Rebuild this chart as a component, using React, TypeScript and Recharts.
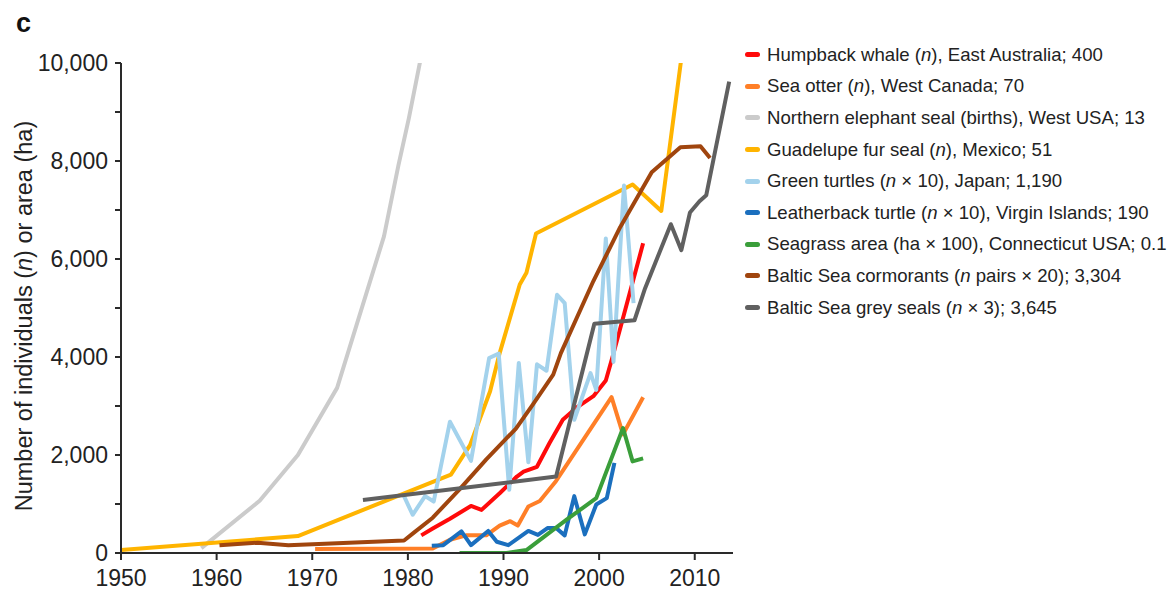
import React from 'react';
import { LineChart, Line, XAxis, YAxis, Legend } from 'recharts';

// ---- Data ----
const xTicks = [1950, 1960, 1970, 1980, 1990, 2000, 2010];
const yTicks = [0, 1000, 2000, 3000, 4000, 5000, 6000, 7000, 8000, 9000, 10000];

const humpbackYears = [1981.4, 1982.6, 1984.4, 1986.6, 1987.7, 1989.6, 1991.4, 1992.1, 1993.5, 1994.8, 1996.2, 1997.6, 1999.4, 2000.7, 2001.4, 2004.6];
const humpbackValues = [360, 500, 700, 960, 880, 1220, 1560, 1660, 1760, 2240, 2720, 2960, 3200, 3520, 4000, 6320];

const otterYears = [1970.3, 1982.6, 1984.4, 1986.1, 1988.2, 1989.6, 1990.7, 1991.5, 1992.6, 1993.8, 1995.5, 2001.3, 2002.5, 2004.6];
const otterValues = [80, 90, 270, 360, 360, 560, 650, 560, 950, 1060, 1470, 3180, 2420, 3180];

const elephantYears = [1958.4, 1964.5, 1968.5, 1972.6, 1977.5, 1979.0, 1980.1, 1981.3];
const elephantValues = [100, 1065, 2000, 3370, 6460, 7900, 8870, 10050];

const guadalupeYears = [1950, 1968.5, 1984.5, 1986.5, 1988.6, 1989.6, 1991.7, 1992.4, 1993.4, 2003.5, 2006.5, 2008.6];
const guadalupeValues = [60, 345, 1600, 2200, 3300, 4080, 5480, 5720, 6520, 7520, 6980, 10100];

const greenTurtleYears = [1979.5, 1980.5, 1981.8, 1982.7, 1984.4, 1986.6, 1988.5, 1989.5, 1990.6, 1991.6, 1992.6, 1993.5, 1994.5, 1995.6, 1996.4, 1997.4, 1999.1, 1999.7, 2000.7, 2001.5, 2002.6, 2003.6];
const greenTurtleValues = [1200, 780, 1160, 1050, 2680, 1880, 3980, 4070, 1290, 3880, 1850, 3850, 3720, 5270, 5100, 2720, 3670, 3330, 6420, 3900, 7500, 5100];

const leatherbackYears = [1982.5, 1983.7, 1985.6, 1986.6, 1988.4, 1989.3, 1990.5, 1992.6, 1993.6, 1994.6, 1995.5, 1996.4, 1997.4, 1998.5, 1999.7, 2000.8, 2001.6];
const leatherbackValues = [150, 160, 440, 160, 450, 230, 160, 450, 370, 510, 510, 360, 1160, 380, 990, 1120, 1840];

const seagrassYears = [1985.4, 1990.3, 1992.4, 1994.5, 1996.6, 1999.7, 2002.5, 2003.5, 2004.6];
const seagrassValues = [0, 0, 60, 370, 680, 1120, 2550, 1870, 1930];

const cormorantYears = [1960.3, 1964.3, 1967.5, 1979.6, 1980.6, 1982.6, 1985.4, 1988.2, 1991.3, 1993.1, 1995.2, 1996.0, 1999.4, 2002.2, 2005.5, 2008.5, 2010.6, 2011.6];
const cormorantValues = [160, 210, 160, 255, 410, 720, 1300, 1910, 2540, 3040, 3640, 4080, 5550, 6650, 7770, 8280, 8300, 8060];

const greySealYears = [1975.3, 1995.5, 1999.5, 2003.7, 2004.8, 2007.5, 2008.6, 2009.5, 2010.5, 2011.2, 2013.6];
const greySealValues = [1080, 1560, 4680, 4750, 5400, 6710, 6180, 6950, 7180, 7300, 9620];

const seriesNames = [
  'Humpback whale (*n*), East Australia; 400',
  'Sea otter (*n*), West Canada; 70',
  'Northern elephant seal (births), West USA; 13',
  'Guadelupe fur seal (*n*), Mexico; 51',
  'Green turtles (*n* \u00d7 10), Japan; 1,190',
  'Leatherback turtle (*n* \u00d7 10), Virgin Islands; 190',
  'Seagrass area (ha \u00d7 100), Connecticut USA; 0.1',
  'Baltic Sea cormorants (*n* pairs \u00d7 20); 3,304',
  'Baltic Sea grey seals (*n* \u00d7 3); 3,645',
];
const seriesColors = ['#ff0a0a', '#ff7f27', '#cbcbcb', '#ffb400', '#a3d2ec', '#1b6fbe', '#3a9e3a', '#a0450e', '#606060'];

const toPoints = (years: number[], values: number[]) => years.map((year, i) => ({ year, value: values[i] }));

const seriesData = [
  toPoints(humpbackYears, humpbackValues),
  toPoints(otterYears, otterValues),
  toPoints(elephantYears, elephantValues),
  toPoints(guadalupeYears, guadalupeValues),
  toPoints(greenTurtleYears, greenTurtleValues),
  toPoints(leatherbackYears, leatherbackValues),
  toPoints(seagrassYears, seagrassValues),
  toPoints(cormorantYears, cormorantValues),
  toPoints(greySealYears, greySealValues),
];

const FONT = '"Liberation Sans", Arial, Helvetica, sans-serif';
const TEXT = '#222';

function renderRich(label: string) {
  const parts = label.split('*');
  return parts.map((p, i) => (i % 2 === 1 ? <i key={i}>{p}</i> : <React.Fragment key={i}>{p}</React.Fragment>));
}

function LegendContent() {
  return (
    <div style={{ fontFamily: FONT, fontSize: 18.6, color: TEXT }}>
      {seriesNames.map((name, i) => (
        <div key={name} style={{ display: 'flex', alignItems: 'center', height: 31.6, whiteSpace: 'nowrap' }}>
          <span style={{ display: 'inline-block', width: 15, height: 5, borderRadius: 2.5, background: seriesColors[i], marginRight: 7 }} />
          <span>{renderRich(name)}</span>
        </div>
      ))}
    </div>
  );
}

function YTitle() {
  return (
    <text x={32} y={316} transform="rotate(-90 32 316)" textAnchor="middle" fontFamily={FONT} fontSize={23.5} fill={TEXT}>
      Number of individuals (<tspan fontStyle="italic">n</tspan>) or area (ha)
    </text>
  );
}

export default function App() {
  return (
    <div style={{ position: 'absolute', left: 0, top: 0, width: 1169, height: 592, background: '#fff' }}>
      <div style={{ position: 'absolute', left: 16, top: 8, fontFamily: FONT, fontWeight: 'bold', fontSize: 27, color: '#111' }}>c</div>
      <LineChart width={1169} height={592} margin={{ top: 63, right: 436, bottom: 0, left: 0 }}>
        <XAxis
          dataKey="year"
          type="number"
          domain={[1950, 2014]}
          ticks={xTicks}
          allowDataOverflow
          height={39}
          tickSize={7}
          tickMargin={10}
          axisLine={{ stroke: '#2a2a2a', strokeWidth: 2 }}
          tickLine={{ stroke: '#2a2a2a', strokeWidth: 2 }}
          tick={{ fontFamily: FONT, fontSize: 23, fill: TEXT }}
          interval={0}
        />
        <YAxis
          type="number"
          domain={[0, 10000]}
          ticks={yTicks}
          allowDataOverflow
          width={121}
          tickSize={6}
          tickMargin={7}
          interval={0}
          axisLine={{ stroke: '#2a2a2a', strokeWidth: 2 }}
          tickLine={{ stroke: '#2a2a2a', strokeWidth: 2 }}
          tick={{ fontFamily: FONT, fontSize: 23, fill: TEXT }}
          tickFormatter={(v: number) => (v % 2000 === 0 ? v.toLocaleString('en-US') : '')}
          label={<YTitle />}
        />
        <Legend
          layout="vertical"
          align="center"
          verticalAlign="middle"
          content={<LegendContent />}
          wrapperStyle={{ left: 745, top: 39, width: 424, height: 290 }}
        />
        {seriesData.map((d, i) => (
          <Line
            key={seriesNames[i]}
            data={d}
            dataKey="value"
            name={seriesNames[i]}
            type="linear"
            stroke={seriesColors[i]}
            strokeWidth={4}
            strokeLinejoin="round"
            dot={false}
            activeDot={false}
            isAnimationActive={false}
          />
        ))}
      </LineChart>
    </div>
  );
}
